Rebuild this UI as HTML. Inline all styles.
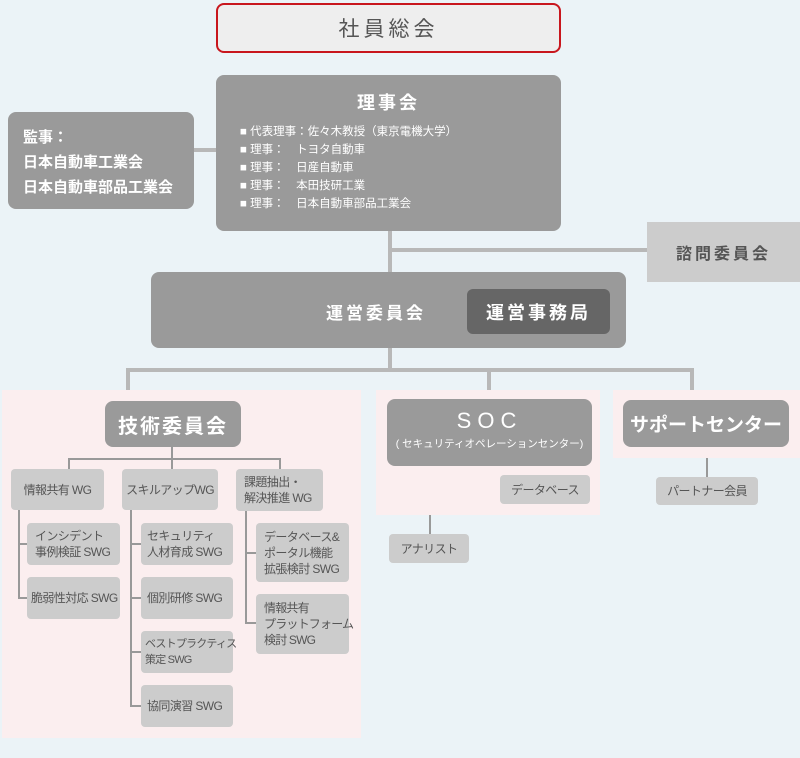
<!DOCTYPE html>
<html><head><meta charset="utf-8"><style>
*{margin:0;padding:0;box-sizing:border-box}
body{width:800px;height:758px;background:#ebf3f7;position:relative;overflow:hidden;font-family:"Liberation Sans","Noto Sans CJK JP",sans-serif}
.a{position:absolute}
.d{background:#9a9a9a;color:#fff;border-radius:8px}
.l{background:#ccc;color:#555;border-radius:4px;font-size:12px;line-height:16px;white-space:nowrap;letter-spacing:-0.6px}
.c{display:flex;align-items:center;justify-content:center;text-align:center}
.m{background:#b8b8b8}
.s{background:#999}
.p{background:#fbeeef}
.sw{padding-left:8px;display:flex;flex-direction:column;justify-content:center}
</style></head><body>
<div class="a p" style="left:2px;top:390px;width:359px;height:348px"></div>
<div class="a p" style="left:376px;top:390px;width:224px;height:125px"></div>
<div class="a p" style="left:613px;top:390px;width:187px;height:68px"></div>
<div class="a m" style="left:194px;top:148px;width:22px;height:4px"></div>
<div class="a m" style="left:388px;top:231px;width:4px;height:41px"></div>
<div class="a m" style="left:388px;top:248px;width:259px;height:4px"></div>
<div class="a m" style="left:388px;top:348px;width:4px;height:22px"></div>
<div class="a m" style="left:126px;top:368px;width:568px;height:4px"></div>
<div class="a m" style="left:126px;top:368px;width:4px;height:22px"></div>
<div class="a m" style="left:487px;top:368px;width:4px;height:22px"></div>
<div class="a m" style="left:690px;top:368px;width:4px;height:22px"></div>
<div class="a c" style="left:216px;top:3px;width:345px;height:50px;background:#eee;border:2px solid #c8161d;border-radius:8px;color:#555;font-size:21px;letter-spacing:4px">社員総会</div>
<div class="a d" style="left:216px;top:75px;width:345px;height:156px">
<div style="text-align:center;font-size:18px;font-weight:bold;letter-spacing:3px;margin-top:14px">理事会</div>
<div style="position:absolute;left:24px;top:48px;font-size:11.5px;line-height:18px;white-space:nowrap">■ 代表理事：佐々木教授（東京電機大学）<br>■ 理事：　トヨタ自動車<br>■ 理事：　日産自動車<br>■ 理事：　本田技研工業<br>■ 理事：　日本自動車部品工業会</div>
</div>
<div class="a d" style="left:8px;top:112px;width:186px;height:97px;padding:13px 0 0 15px;font-size:15px;font-weight:bold;line-height:25px">監事：<br>日本自動車工業会<br>日本自動車部品工業会</div>
<div class="a c" style="left:647px;top:222px;width:153px;height:60px;background:#ccc;color:#555;font-size:16px;font-weight:bold;letter-spacing:3px">諮問委員会</div>
<div class="a d" style="left:151px;top:272px;width:475px;height:76px"></div>
<div class="a" style="left:326px;top:299px;color:#fff;font-size:17px;font-weight:bold;letter-spacing:3px">運営委員会</div>
<div class="a c" style="left:467px;top:289px;width:143px;height:45px;background:#666;color:#fff;border-radius:6px;font-size:18px;font-weight:bold;letter-spacing:3px">運営事務局</div>
<div class="a d c" style="left:105px;top:401px;width:136px;height:46px;font-size:20px;font-weight:bold;letter-spacing:2px">技術委員会</div>
<div class="a s" style="left:171px;top:447px;width:2px;height:12px"></div>
<div class="a s" style="left:68px;top:458px;width:213px;height:2px"></div>
<div class="a s" style="left:68px;top:458px;width:2px;height:11px"></div>
<div class="a s" style="left:171px;top:458px;width:2px;height:11px"></div>
<div class="a s" style="left:279px;top:458px;width:2px;height:11px"></div>
<div class="a l c" style="left:11px;top:469px;width:93px;height:41px">情報共有 WG</div>
<div class="a l c" style="left:122px;top:469px;width:96px;height:41px">スキルアップWG</div>
<div class="a l sw" style="left:236px;top:469px;width:87px;height:42px;padding-left:8px">課題抽出・<br>解決推進 WG</div>
<div class="a s" style="left:18px;top:510px;width:2px;height:89px"></div>
<div class="a s" style="left:18px;top:543px;width:9px;height:2px"></div>
<div class="a s" style="left:18px;top:597px;width:9px;height:2px"></div>
<div class="a l sw" style="left:27px;top:523px;width:93px;height:42px">インシデント<br>事例検証 SWG</div>
<div class="a l sw" style="left:27px;top:577px;width:93px;height:42px;padding-left:4px">脆弱性対応 SWG</div>
<div class="a s" style="left:130px;top:510px;width:2px;height:197px"></div>
<div class="a s" style="left:130px;top:543px;width:11px;height:2px"></div>
<div class="a s" style="left:130px;top:597px;width:11px;height:2px"></div>
<div class="a s" style="left:130px;top:651px;width:11px;height:2px"></div>
<div class="a s" style="left:130px;top:705px;width:11px;height:2px"></div>
<div class="a l sw" style="left:141px;top:523px;width:92px;height:42px;padding-left:6px">セキュリティ<br>人材育成 SWG</div>
<div class="a l sw" style="left:141px;top:577px;width:92px;height:42px;padding-left:6px">個別研修 SWG</div>
<div class="a l sw" style="left:141px;top:631px;width:92px;height:42px;padding-left:4px;font-size:11px;letter-spacing:-0.8px">ベストプラクティス<br>策定 SWG</div>
<div class="a l sw" style="left:141px;top:685px;width:92px;height:42px;padding-left:6px">協同演習 SWG</div>
<div class="a s" style="left:245px;top:511px;width:2px;height:113px"></div>
<div class="a s" style="left:245px;top:552px;width:11px;height:2px"></div>
<div class="a s" style="left:245px;top:622px;width:11px;height:2px"></div>
<div class="a l sw" style="left:256px;top:523px;width:93px;height:59px">データベース&amp;<br>ポータル機能<br>拡張検討 SWG</div>
<div class="a l sw" style="left:256px;top:594px;width:93px;height:60px;letter-spacing:-0.8px">情報共有<br>プラットフォーム<br>検討 SWG</div>
<div class="a d" style="left:387px;top:399px;width:205px;height:67px;text-align:center">
<div style="font-size:22px;letter-spacing:6px;margin-top:10px;line-height:24px">SOC</div>
<div style="font-size:10.5px;margin-top:3px;white-space:nowrap">( セキュリティオペレーションセンター)</div></div>
<div class="a l c" style="left:500px;top:475px;width:90px;height:29px">データベース</div>
<div class="a s" style="left:429px;top:515px;width:2px;height:19px"></div>
<div class="a l c" style="left:389px;top:534px;width:80px;height:29px">アナリスト</div>
<div class="a d c" style="left:623px;top:400px;width:166px;height:47px;font-size:19px;font-weight:bold">サポートセンター</div>
<div class="a s" style="left:706px;top:458px;width:2px;height:19px"></div>
<div class="a l c" style="left:656px;top:477px;width:102px;height:28px">パートナー会員</div>
</body></html>
